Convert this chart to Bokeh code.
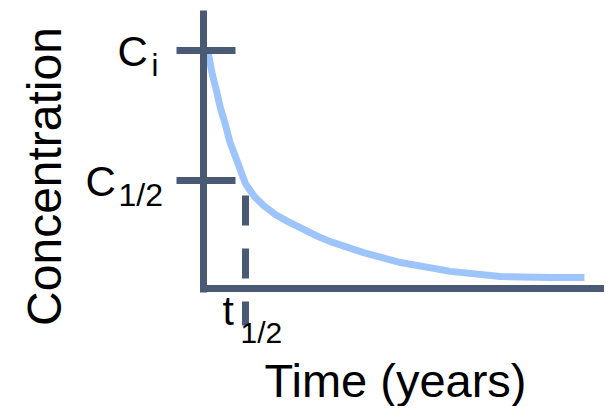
from math import pi
from bokeh.plotting import figure
from bokeh.models import Range1d, Label
from bokeh.embed import file_html
from bokeh.resources import INLINE

# ---- data (time in units of half-lives, concentration relative to C_i) ----
time_vals = [0.1, 0.21, 0.31, 0.4, 0.52, 0.62, 0.79, 1.0, 1.21, 1.43, 1.71,
             2.0, 2.24, 2.67, 3.02, 3.81, 4.69, 5.88, 7.07, 8.26, 9.07]
conc_vals = [1.0, 0.9, 0.83, 0.76, 0.69, 0.62, 0.54, 0.44, 0.387, 0.349, 0.311,
             0.282, 0.261, 0.223, 0.197, 0.151, 0.109, 0.072, 0.05, 0.046, 0.046]
c_initial = 1.0
c_half = 0.454
t_half = 1.0
tick_labels = ["C", "i", "C", "1/2", "t", "1/2"]
x_title = "Time (years)"
y_title = "Concentration"

OFF = 0             # page offset of the figure
W, H = 604, 406
PX_PER_T = 42.0     # pixels per time unit
PX_PER_C = 238.0    # pixels per concentration unit
X0, Y0 = 203.0, 288.0  # page pixel of the origin
BASE_FIX = 0.33     # em shift to bring the drawn baseline to the wanted one

def t_of(px):
    return (px - X0) / PX_PER_T

def c_of(py):
    return (Y0 - py) / PX_PER_C

p = figure(width=W, height=H, output_backend="svg", toolbar_location=None,
           x_range=Range1d(t_of(OFF), t_of(OFF + W)),
           y_range=Range1d(c_of(OFF + H), c_of(OFF)),
           min_border=0)
p.axis.visible = False
p.grid.visible = False
p.outline_line_color = None
p.background_fill_color = "white"
p.border_fill_color = "white"

AX = "#4A5A75"
CURVE = "#9EC4FC"

# decay curve
p.line(time_vals, conc_vals, line_color=CURVE, line_width=7,
       line_join="round", line_cap="butt")

# axes
p.segment(x0=[0.0], y0=[c_of(10)], x1=[0.0], y1=[c_of(292)],
          line_color=AX, line_width=7, line_cap="butt")
p.segment(x0=[t_of(200)], y0=[0.0], x1=[t_of(610)], y1=[0.0],
          line_color=AX, line_width=7, line_cap="butt")

# ticks at C_i and C_1/2
p.segment(x0=[t_of(176)] * 2, y0=[c_initial, c_half],
          x1=[t_of(235)] * 2, y1=[c_initial, c_half],
          line_color=AX, line_width=7, line_cap="butt")

# dashed line at t_1/2
p.segment(x0=[t_half], y0=[c_of(195)], x1=[t_half], y1=[c_of(325)],
          line_color=AX, line_width=7, line_dash="30 23", line_cap="butt")

FONT = "Liberation Sans"

def lab(text, px, py, size, rotated=False, **kw):
    if rotated:
        px = px - BASE_FIX * size
    else:
        py = py - BASE_FIX * size
    p.add_layout(Label(x=px - OFF, y=OFF + H - py, x_units="screen", y_units="screen",
                       text=text, text_font=FONT, text_font_size=f"{size}px",
                       text_color="black", text_baseline="alphabetic",
                       angle=(pi / 2 if rotated else 0), **kw))

lab(tick_labels[0], 117, 65, 42)
lab(tick_labels[1], 151, 75, 31)
lab(tick_labels[2], 85, 195, 42)
lab(tick_labels[3], 118, 205, 32)
lab(tick_labels[4], 222, 324, 41)
lab(tick_labels[5], 240, 342, 30)

lab(x_title, 395, 396, 47, text_align="center")
lab(y_title, 60, 176, 48, rotated=True, text_align="center")

open("out.html", "w").write(file_html(p, INLINE))
